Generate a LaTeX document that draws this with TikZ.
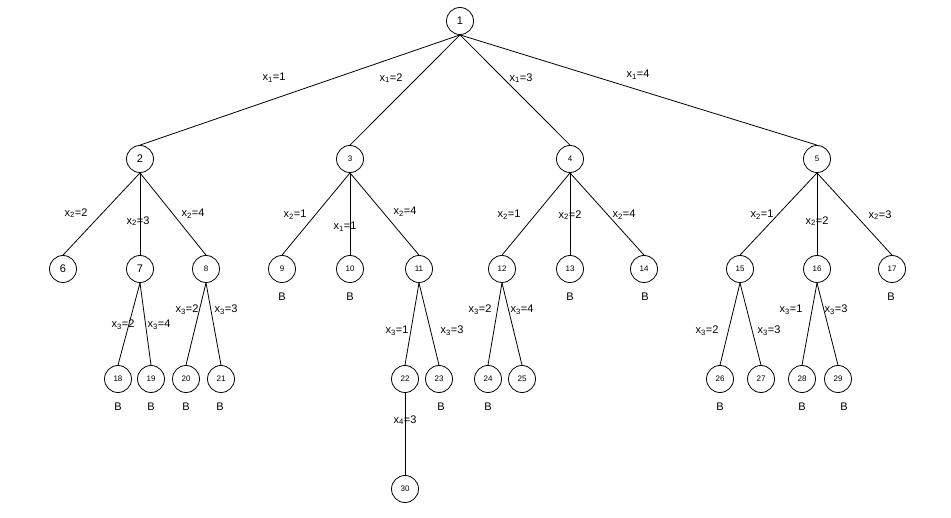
\documentclass[tikz,border=0pt]{standalone}
\usepackage{fontspec}
\setmainfont{Liberation Sans}
\begin{document}
\begin{tikzpicture}[x=1pt, y=-1pt, line width=0.8pt,
		main/.style = {draw, circle, minimum size=27pt, inner sep=0pt, font=\fontsize{11}{13}\selectfont},
		small/.style = {main, font=\fontsize{8}{10}\selectfont},
		lbl/.style = {inner sep=0pt, font=\fontsize{11}{13}\selectfont},
		bnd/.style = {inner sep=0pt, font=\fontsize{11}{13}\selectfont}]

		\useasboundingbox (0,0) rectangle (951,518);

		\node[main] (1) at (460,21) {1};
		\node[main] (2) at (140,159) {2};
		\node[small] (3) at (350,159) {3};
		\node[small] (4) at (570,159) {4};
		\node[small] (5) at (817,159) {5};

		\node[main] (6) at (63,269) {6};
		\node[main] (7) at (140,269) {7};
		\node[small] (8) at (206,269) {8};
		\node[small] (9) at (282,269) {9};
		\node[small] (10) at (350,269) {10};
		\node[small] (11) at (419,269) {11};
		\node[small] (12) at (502,269) {12};
		\node[small] (13) at (570,269) {13};
		\node[small] (14) at (644,269) {14};
		\node[small] (15) at (740,269) {15};
		\node[small] (16) at (817,269) {16};
		\node[small] (17) at (892,269) {17};

		\node[small] (18) at (118,379) {18};
		\node[small] (19) at (151,379) {19};
		\node[small] (20) at (186,379) {20};
		\node[small] (21) at (221,379) {21};
		\node[small] (22) at (405,379) {22};
		\node[small] (23) at (439,379) {23};
		\node[small] (24) at (488,379) {24};
		\node[small] (25) at (522,379) {25};
		\node[small] (26) at (720,379) {26};
		\node[small] (27) at (761,379) {27};
		\node[small] (28) at (802,379) {28};
		\node[small] (29) at (838,379) {29};
		\node[small] (30) at (405,489) {30};

		\draw (1.south) -- (2.north);
		\draw (1.south) -- (3.north);
		\draw (1.south) -- (4.north);
		\draw (1.south) -- (5.north);
		\draw (2.south) -- (6.north);
		\draw (2.south) -- (7.north);
		\draw (2.south) -- (8.north);
		\draw (3.south) -- (9.north);
		\draw (3.south) -- (10.north);
		\draw (3.south) -- (11.north);
		\draw (4.south) -- (12.north);
		\draw (4.south) -- (13.north);
		\draw (4.south) -- (14.north);
		\draw (5.south) -- (15.north);
		\draw (5.south) -- (16.north);
		\draw (5.south) -- (17.north);
		\draw (7.south) -- (18.north);
		\draw (7.south) -- (19.north);
		\draw (8.south) -- (20.north);
		\draw (8.south) -- (21.north);
		\draw (11.south) -- (22.north);
		\draw (11.south) -- (23.north);
		\draw (12.south) -- (24.north);
		\draw (12.south) -- (25.north);
		\draw (15.south) -- (26.north);
		\draw (15.south) -- (27.north);
		\draw (16.south) -- (28.north);
		\draw (16.south) -- (29.north);
		\draw (22.south) -- (30.north);

		% edge labels
		\node[lbl] (l2) at (274,78) {x\textsubscript{1}=1};
		\node[lbl] (l3) at (391,78) {x\textsubscript{1}=2};
		\node[lbl] (l4) at (521,78) {x\textsubscript{1}=3};
		\node[lbl] (l5) at (638,75) {x\textsubscript{1}=4};
		\node[lbl] (l6) at (76,213) {x\textsubscript{2}=2};
		\node[lbl] (l7) at (138,221) {x\textsubscript{2}=3};
		\node[lbl] (l8) at (193,214) {x\textsubscript{2}=4};
		\node[lbl] (l9) at (295,215) {x\textsubscript{2}=1};
		\node[lbl] (l10) at (345,227) {x\textsubscript{1}=1};
		\node[lbl] (l11) at (405,212) {x\textsubscript{2}=4};
		\node[lbl] (l12) at (509,215) {x\textsubscript{2}=1};
		\node[lbl] (l13) at (570,215) {x\textsubscript{2}=2};
		\node[lbl] (l14) at (624,215) {x\textsubscript{2}=4};
		\node[lbl] (l15) at (762,215) {x\textsubscript{2}=1};
		\node[lbl] (l16) at (817,221) {x\textsubscript{2}=2};
		\node[lbl] (l17) at (880,215) {x\textsubscript{2}=3};
		\node[lbl] (l18) at (123,325) {x\textsubscript{3}=2};
		\node[lbl] (l19) at (159,325) {x\textsubscript{3}=4};
		\node[lbl] (l20) at (187,310) {x\textsubscript{3}=2};
		\node[lbl] (l21) at (226,310) {x\textsubscript{3}=3};
		\node[lbl] (l22) at (397,331) {x\textsubscript{3}=1};
		\node[lbl] (l23) at (452,331) {x\textsubscript{3}=3};
		\node[lbl] (l24) at (480,310) {x\textsubscript{3}=2};
		\node[lbl] (l25) at (522,310) {x\textsubscript{3}=4};
		\node[lbl] (l26) at (707,331) {x\textsubscript{3}=2};
		\node[lbl] (l27) at (769,331) {x\textsubscript{3}=3};
		\node[lbl] (l28) at (791,310) {x\textsubscript{3}=1};
		\node[lbl] (l29) at (836,310) {x\textsubscript{3}=3};
		\node[lbl] (l30) at (405,420) {x\textsubscript{4}=3};

		% bounded nodes
		\node[bnd] (b9) at (282,297) {B};
		\node[bnd] (b10) at (350,297) {B};
		\node[bnd] (b13) at (570,297) {B};
		\node[bnd] (b14) at (645,297) {B};
		\node[bnd] (b17) at (891,297) {B};
		\node[bnd] (b18) at (118,407) {B};
		\node[bnd] (b19) at (151,407) {B};
		\node[bnd] (b20) at (186,407) {B};
		\node[bnd] (b21) at (220,407) {B};
		\node[bnd] (b23) at (441,407) {B};
		\node[bnd] (b24) at (488,407) {B};
		\node[bnd] (b26) at (720,407) {B};
		\node[bnd] (b28) at (802,407) {B};
		\node[bnd] (b29) at (844,407) {B};
	\end{tikzpicture}
\end{document}
